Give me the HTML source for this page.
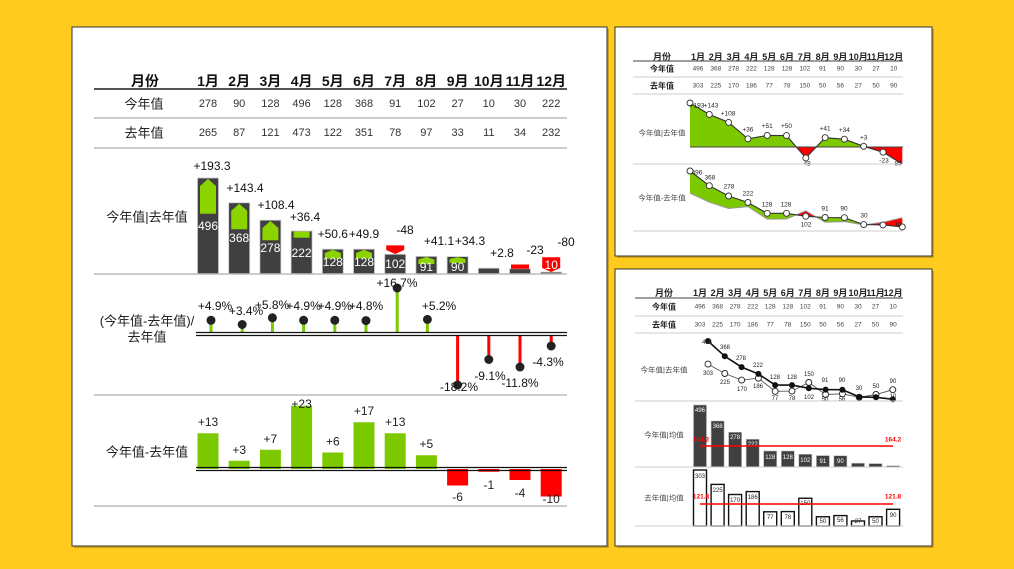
<!DOCTYPE html>
<html><head><meta charset="utf-8"><style>
html,body{margin:0;padding:0;background:#FFCB1F;}
svg{display:block;font-family:"Liberation Sans","Noto Sans CJK SC",sans-serif;}
</style></head><body>
<svg width="1014" height="569" viewBox="0 0 1014 569" xmlns="http://www.w3.org/2000/svg">
<rect width="1014" height="569" fill="#FFCB1F"/>
<!-- panels -->
<rect x="74" y="29" width="535" height="519" fill="#9a7a10" opacity="0.5"/>
<rect x="72" y="27" width="535" height="519" fill="#fff" stroke="#333" stroke-width="1"/>
<rect x="617" y="29" width="317" height="229" fill="#9a7a10" opacity="0.5"/>
<rect x="615" y="27" width="317" height="229" fill="#fff" stroke="#333" stroke-width="1"/>
<rect x="617" y="271" width="317" height="277" fill="#9a7a10" opacity="0.5"/>
<rect x="615" y="269" width="317" height="277" fill="#fff" stroke="#333" stroke-width="1"/>

<!-- ===== MAIN PANEL ===== -->
<g dominant-baseline="central" text-anchor="middle">
<g font-size="14" font-weight="bold" fill="#111">
<text x="145" y="81">月份</text>
<text x="208" y="81">1月</text><text x="239.2" y="81">2月</text><text x="270.4" y="81">3月</text><text x="301.6" y="81">4月</text><text x="332.8" y="81">5月</text><text x="364" y="81">6月</text><text x="395.2" y="81">7月</text><text x="426.4" y="81">8月</text><text x="457.6" y="81">9月</text><text x="488.8" y="81">10月</text><text x="520" y="81">11月</text><text x="551.2" y="81">12月</text>
</g>
<line x1="94" y1="89" x2="567" y2="89" stroke="#555" stroke-width="2"/>
<line x1="94" y1="118" x2="567" y2="118" stroke="#bbb" stroke-width="1.5"/>
<line x1="94" y1="148" x2="567" y2="148" stroke="#bbb" stroke-width="1.5"/>
<g font-size="13" fill="#222"><text x="144" y="104">今年值</text><text x="144" y="133">去年值</text></g>
<g font-size="11" fill="#333">
<text x="208" y="104">278</text><text x="239.2" y="104">90</text><text x="270.4" y="104">128</text><text x="301.6" y="104">496</text><text x="332.8" y="104">128</text><text x="364" y="104">368</text><text x="395.2" y="104">91</text><text x="426.4" y="104">102</text><text x="457.6" y="104">27</text><text x="488.8" y="104">10</text><text x="520" y="104">30</text><text x="551.2" y="104">222</text>
<text x="208" y="133">265</text><text x="239.2" y="133">87</text><text x="270.4" y="133">121</text><text x="301.6" y="133">473</text><text x="332.8" y="133">122</text><text x="364" y="133">351</text><text x="395.2" y="133">78</text><text x="426.4" y="133">97</text><text x="457.6" y="133">33</text><text x="488.8" y="133">11</text><text x="520" y="133">34</text><text x="551.2" y="133">232</text>
</g>

<!-- chart 1 -->
<text x="147" y="217" font-size="13" fill="#222">今年值|去年值</text>
<g fill="#404040" stroke="#ccc" stroke-width="0.8">
<rect x="197.5" y="178" width="21" height="96"/>
<rect x="228.7" y="202.8" width="21" height="71.2"/>
<rect x="259.9" y="220.2" width="21" height="53.8"/>
<rect x="291.1" y="231" width="21" height="43"/>
<rect x="322.3" y="249.2" width="21" height="24.8"/>
<rect x="353.5" y="249.2" width="21" height="24.8"/>
<rect x="384.7" y="254.3" width="21" height="19.7"/>
<rect x="415.9" y="256.4" width="21" height="17.6"/>
<rect x="447.1" y="256.6" width="21" height="17.4"/>
<rect x="478.3" y="268.2" width="21" height="5.8"/>
<rect x="509.5" y="268.8" width="21" height="5.2"/>
<rect x="540.7" y="272.1" width="21" height="1.9"/>
</g>
<g fill="#8CD400">
<polygon points="200,213.8 200,186 208,179 216,186 216,213.8"/>
<polygon points="231.2,229.3 231.2,210.8 239.2,203.8 247.2,210.8 247.2,229.3"/>
<polygon points="262.4,240.2 262.4,228 270.4,221 278.4,228 278.4,240.2"/>
<rect x="293.6" y="231.5" width="16" height="6.2"/>
<polygon points="324.8,258.6 324.8,253 332.8,249.7 340.8,253 340.8,258.6"/>
<polygon points="356,258.4 356,253 364,249.7 372,253 372,258.4"/>
<polygon points="418.4,264 418.4,259.5 426.4,256.9 434.4,259.5 434.4,264"/>
<polygon points="449.6,262.9 449.6,259 457.6,257.1 465.6,259 465.6,262.9"/>
</g>
<g fill="#FF0000">
<polygon points="386.2,245.4 404.2,245.4 404.2,250 395.2,254 386.2,250"/>
<rect x="511" y="264.5" width="18" height="4.3"/>
<polygon points="542.2,257.3 560.2,257.3 560.2,268 551.2,272 542.2,268"/>
</g>
<g font-size="12" fill="#fff">
<text x="208" y="226">496</text><text x="239.2" y="238">368</text><text x="270.4" y="248">278</text><text x="301.6" y="253">222</text><text x="332.8" y="262">128</text><text x="364" y="262">128</text><text x="395.2" y="264">102</text><text x="426.4" y="267">91</text><text x="457.6" y="267">90</text><text x="551.2" y="265">10</text>
</g>
<g font-size="12" fill="#111">
<text x="212" y="166">+193.3</text><text x="245" y="188">+143.4</text><text x="276" y="205">+108.4</text><text x="305" y="217">+36.4</text><text x="332.8" y="234">+50.6</text><text x="364" y="234">+49.9</text><text x="405" y="230">-48</text><text x="439" y="241">+41.1</text><text x="470" y="241">+34.3</text><text x="502" y="253">+2.8</text><text x="535" y="250">-23</text><text x="566" y="242">-80</text>
</g>
<line x1="94" y1="274" x2="567" y2="274" stroke="#bbb" stroke-width="1.5"/>

<!-- chart 2 -->
<text x="147" y="321" font-size="13" fill="#222">(今年值-去年值)/</text>
<text x="147" y="337" font-size="13" fill="#222">去年值</text>
<g stroke="#7DC900" stroke-width="3">
<line x1="211" y1="332" x2="211" y2="320.3"/><line x1="242.2" y1="332" x2="242.2" y2="324.5"/><line x1="272.4" y1="332" x2="272.4" y2="317.8"/><line x1="303.6" y1="332" x2="303.6" y2="320.3"/><line x1="334.8" y1="332" x2="334.8" y2="320.3"/><line x1="366" y1="332" x2="366" y2="320.6"/><line x1="397.2" y1="332" x2="397.2" y2="288"/><line x1="427.4" y1="332" x2="427.4" y2="319.4"/>
</g>
<g stroke="#FF0000" stroke-width="3">
<line x1="457.6" y1="336" x2="457.6" y2="385"/><line x1="488.8" y1="336" x2="488.8" y2="359.5"/><line x1="520" y1="336" x2="520" y2="367"/><line x1="551.2" y1="336" x2="551.2" y2="346"/>
</g>
<line x1="196" y1="332.5" x2="567" y2="332.5" stroke="#111" stroke-width="1.3"/>
<line x1="196" y1="335.5" x2="567" y2="335.5" stroke="#111" stroke-width="1.3"/>
<g fill="#222">
<circle cx="211" cy="320.3" r="4.5"/><circle cx="242.2" cy="324.5" r="4.5"/><circle cx="272.4" cy="317.8" r="4.5"/><circle cx="303.6" cy="320.3" r="4.5"/><circle cx="334.8" cy="320.3" r="4.5"/><circle cx="366" cy="320.6" r="4.5"/><circle cx="397.2" cy="288" r="4.5"/><circle cx="427.4" cy="319.4" r="4.5"/>
<circle cx="457.6" cy="385" r="4.5"/><circle cx="488.8" cy="359.5" r="4.5"/><circle cx="520" cy="367" r="4.5"/><circle cx="551.2" cy="346" r="4.5"/>
</g>
<g font-size="12" fill="#111">
<text x="215" y="306">+4.9%</text><text x="246" y="311">+3.4%</text><text x="272" y="305">+5.8%</text><text x="303.6" y="306">+4.9%</text><text x="334.8" y="306">+4.9%</text><text x="366" y="306">+4.8%</text><text x="397" y="283">+16.7%</text><text x="439" y="306">+5.2%</text>
<text x="459" y="387">-18.2%</text><text x="490" y="376">-9.1%</text><text x="520" y="383">-11.8%</text><text x="548" y="362">-4.3%</text>
</g>
<line x1="94" y1="395" x2="567" y2="395" stroke="#bbb" stroke-width="1.5"/>

<!-- chart 3 -->
<text x="147" y="452" font-size="13" fill="#222">今年值-去年值</text>
<g fill="#7DC900">
<rect x="197.5" y="433.25" width="21" height="35.75"/><rect x="228.7" y="460.75" width="21" height="8.25"/><rect x="259.9" y="449.75" width="21" height="19.25"/><rect x="291.1" y="405.75" width="21" height="63.25"/><rect x="322.3" y="452.5" width="21" height="16.5"/><rect x="353.5" y="422.25" width="21" height="46.75"/><rect x="384.7" y="433.25" width="21" height="35.75"/><rect x="415.9" y="455.25" width="21" height="13.75"/>
</g>
<g fill="#FF0000">
<rect x="447.1" y="469" width="21" height="16.5"/><rect x="478.3" y="469" width="21" height="2.75"/><rect x="509.5" y="469" width="21" height="11"/><rect x="540.7" y="469" width="21" height="27.5"/>
</g>
<line x1="196" y1="467.5" x2="567" y2="467.5" stroke="#111" stroke-width="1.3"/>
<line x1="196" y1="470.5" x2="567" y2="470.5" stroke="#111" stroke-width="1.3"/>
<g font-size="12" fill="#222">
<text x="208" y="422">+13</text><text x="239.2" y="450">+3</text><text x="270.4" y="439">+7</text><text x="301.6" y="404">+23</text><text x="332.8" y="441.5">+6</text><text x="364" y="411">+17</text><text x="395.2" y="422">+13</text><text x="426.4" y="444">+5</text>
<text x="457.6" y="497">-6</text><text x="488.8" y="485">-1</text><text x="520" y="493">-4</text><text x="551.2" y="499">-10</text>
</g>
<line x1="94" y1="506" x2="567" y2="506" stroke="#bbb" stroke-width="1.5"/>

<!-- ===== TOP RIGHT PANEL ===== -->
<g font-size="9" font-weight="bold" fill="#222">
<text x="662" y="57">月份</text>
<text x="698" y="57">1月</text><text x="715.8" y="57">2月</text><text x="733.6" y="57">3月</text><text x="751.4" y="57">4月</text><text x="769.2" y="57">5月</text><text x="787" y="57">6月</text><text x="804.8" y="57">7月</text><text x="822.6" y="57">8月</text><text x="840.4" y="57">9月</text><text x="858.2" y="57">10月</text><text x="876" y="57">11月</text><text x="893.8" y="57">12月</text>
<text x="662" y="69" font-size="8">今年值</text><text x="662" y="86" font-size="8">去年值</text>
</g>
<line x1="633" y1="61" x2="903" y2="61" stroke="#666" stroke-width="1.3"/>
<line x1="633" y1="77" x2="903" y2="77" stroke="#ccc"/>
<line x1="633" y1="94" x2="903" y2="94" stroke="#ccc"/>
<g font-size="6.5" fill="#444">
<text x="698" y="69">496</text><text x="715.8" y="69">368</text><text x="733.6" y="69">278</text><text x="751.4" y="69">222</text><text x="769.2" y="69">128</text><text x="787" y="69">128</text><text x="804.8" y="69">102</text><text x="822.6" y="69">91</text><text x="840.4" y="69">90</text><text x="858.2" y="69">30</text><text x="876" y="69">27</text><text x="893.8" y="69">10</text>
<text x="698" y="86">303</text><text x="715.8" y="86">225</text><text x="733.6" y="86">170</text><text x="751.4" y="86">186</text><text x="769.2" y="86">77</text><text x="787" y="86">78</text><text x="804.8" y="86">150</text><text x="822.6" y="86">50</text><text x="840.4" y="86">56</text><text x="858.2" y="86">27</text><text x="876" y="86">50</text><text x="893.8" y="86">90</text>
</g>
<text x="662" y="133" font-size="7.5" fill="#444">今年值|去年值</text>
<polygon fill="#7DC900" points="690,147 690,103 709.3,114.4 728.6,122.4 747.9,138.8 767.2,135.4 786.5,135.6 796.4,147"/>
<polygon fill="#7DC900" points="816.2,147 825.1,137.7 844.4,139.2 863.7,146.3 866,147"/>
<polygon fill="#FF0000" points="796.4,147 805.8,157.9 816.2,147"/>
<polygon fill="#FF0000" points="866,147 883,152.2 902.3,164 902.3,147"/>
<line x1="690" y1="147" x2="903" y2="147" stroke="#444" stroke-width="1"/>
<polyline fill="none" stroke="#333" stroke-width="1.1" points="690,103 709.3,114.4 728.6,122.4 747.9,138.8 767.2,135.4 786.5,135.6 805.8,157.9 825.1,137.7 844.4,139.2 863.7,146.3 883,152.2 902.3,164"/>
<g fill="#fff" stroke="#333" stroke-width="0.9">
<circle cx="690" cy="103" r="3"/><circle cx="709.3" cy="114.4" r="3"/><circle cx="728.6" cy="122.4" r="3"/><circle cx="747.9" cy="138.8" r="3"/><circle cx="767.2" cy="135.4" r="3"/><circle cx="786.5" cy="135.6" r="3"/><circle cx="805.8" cy="157.9" r="3"/><circle cx="825.1" cy="137.7" r="3"/><circle cx="844.4" cy="139.2" r="3"/><circle cx="863.7" cy="146.3" r="3"/><circle cx="883" cy="152.2" r="3"/>
</g>
<g font-size="6.5" fill="#222">
<text x="697" y="106">+193</text><text x="711" y="106">+143</text><text x="728" y="114">+108</text><text x="747.9" y="130">+36</text><text x="767.2" y="126.5">+51</text><text x="786.5" y="126.5">+50</text><text x="806" y="164">-48</text><text x="825.1" y="129">+41</text><text x="844.4" y="130.5">+34</text><text x="863.7" y="138">+3</text><text x="884" y="161">-23</text><text x="897" y="164">-80</text>
</g>
<line x1="633" y1="164" x2="903" y2="164" stroke="#ccc"/>

<text x="662" y="198" font-size="7.5" fill="#444">今年值-去年值</text>
<polygon fill="#7DC900" points="690,171 709.3,185.7 728.6,196 747.9,202.5 767.2,213.3 786.5,213.3 796.1,214.8 786.5,219 767.2,219.1 747.9,206.6 728.6,208.5 709.3,202.1 690,193.2"/>
<polygon fill="#FF0000" points="796.1,214.8 805.8,216.3 816.1,216.9 805.8,210.8"/>
<polygon fill="#7DC900" points="816.1,216.9 825.1,217.5 844.4,217.7 863.7,224.6 865.6,224.6 863.7,224.9 844.4,221.6 825.1,222.3"/>
<polygon fill="#FF0000" points="865.6,224.6 883,224.9 902.3,226.9 902.3,217.7 883,222.3"/>
<polyline fill="none" stroke="#999" stroke-width="1" points="690,193.2 709.3,202.1 728.6,208.5 747.9,206.6 767.2,219.1 786.5,219 805.8,210.8 825.1,222.3 844.4,221.6 863.7,224.9 883,222.3 902.3,217.7"/>
<polyline fill="none" stroke="#333" stroke-width="1.1" points="690,171 709.3,185.7 728.6,196 747.9,202.5 767.2,213.3 786.5,213.3 805.8,216.3 825.1,217.5 844.4,217.7 863.7,224.6 883,224.9 902.3,226.9"/>
<g fill="#fff" stroke="#333" stroke-width="0.9">
<circle cx="690" cy="171" r="3"/><circle cx="709.3" cy="185.7" r="3"/><circle cx="728.6" cy="196" r="3"/><circle cx="747.9" cy="202.5" r="3"/><circle cx="767.2" cy="213.3" r="3"/><circle cx="786.5" cy="213.3" r="3"/><circle cx="805.8" cy="216.3" r="3"/><circle cx="825.1" cy="217.5" r="3"/><circle cx="844.4" cy="217.7" r="3"/><circle cx="863.7" cy="224.6" r="3"/><circle cx="883" cy="224.9" r="3"/><circle cx="902.3" cy="226.9" r="3"/>
</g>
<g font-size="6.5" fill="#222">
<text x="697" y="173">496</text><text x="710" y="178">368</text><text x="729" y="187">278</text><text x="748" y="194">222</text><text x="767" y="205">128</text><text x="786" y="205">128</text><text x="806" y="225">102</text><text x="825" y="209">91</text><text x="844" y="209">90</text><text x="864" y="216">30</text><text x="898" y="225">10</text>
</g>
<line x1="633" y1="231" x2="903" y2="231" stroke="#ccc"/>

<!-- ===== BOTTOM RIGHT PANEL ===== -->
<g font-size="9" font-weight="bold" fill="#222">
<text x="664" y="293">月份</text>
<text x="700" y="293">1月</text><text x="717.6" y="293">2月</text><text x="735.1" y="293">3月</text><text x="752.7" y="293">4月</text><text x="770.2" y="293">5月</text><text x="787.8" y="293">6月</text><text x="805.3" y="293">7月</text><text x="822.9" y="293">8月</text><text x="840.4" y="293">9月</text><text x="858" y="293">10月</text><text x="875.5" y="293">11月</text><text x="893.1" y="293">12月</text>
<text x="664" y="307" font-size="8">今年值</text><text x="664" y="325" font-size="8">去年值</text>
</g>
<line x1="635" y1="298" x2="903" y2="298" stroke="#666" stroke-width="1.3"/>
<line x1="635" y1="316" x2="903" y2="316" stroke="#ccc"/>
<line x1="635" y1="333" x2="903" y2="333" stroke="#ccc"/>
<g font-size="6.5" fill="#444">
<text x="700" y="307">496</text><text x="717.6" y="307">368</text><text x="735.1" y="307">278</text><text x="752.7" y="307">222</text><text x="770.2" y="307">128</text><text x="787.8" y="307">128</text><text x="805.3" y="307">102</text><text x="822.9" y="307">91</text><text x="840.4" y="307">90</text><text x="858" y="307">30</text><text x="875.5" y="307">27</text><text x="893.1" y="307">10</text>
<text x="700" y="325">303</text><text x="717.6" y="325">225</text><text x="735.1" y="325">170</text><text x="752.7" y="325">186</text><text x="770.2" y="325">77</text><text x="787.8" y="325">78</text><text x="805.3" y="325">150</text><text x="822.9" y="325">50</text><text x="840.4" y="325">56</text><text x="858" y="325">27</text><text x="875.5" y="325">50</text><text x="893.1" y="325">90</text>
</g>
<text x="664" y="370" font-size="7.5" fill="#444">今年值|去年值</text>
<polyline fill="none" stroke="#555" stroke-width="0.9" points="708,364.1 724.8,373.5 741.6,380.1 758.4,378.2 775.2,391.3 792,391.1 808.8,382.5 825.6,394.5 842.4,393.8 859.2,397.3 876,394.5 892.8,389.7"/>
<polyline fill="none" stroke="#111" stroke-width="1.6" points="708,341 724.8,356.3 741.6,367.1 758.4,373.9 775.2,385.1 792,385.1 808.8,388.3 825.6,389.6 842.4,389.7 859.2,396.9 876,397.3 892.8,399.3"/>
<g fill="#fff" stroke="#222" stroke-width="0.9">
<circle cx="708" cy="364.1" r="3"/><circle cx="724.8" cy="373.5" r="3"/><circle cx="741.6" cy="380.1" r="3"/><circle cx="758.4" cy="378.2" r="3"/><circle cx="775.2" cy="391.3" r="3"/><circle cx="792" cy="391.1" r="3"/><circle cx="808.8" cy="382.5" r="3"/><circle cx="825.6" cy="394.5" r="3"/><circle cx="842.4" cy="393.8" r="3"/><circle cx="859.2" cy="397.3" r="3"/><circle cx="876" cy="394.5" r="3"/><circle cx="892.8" cy="389.7" r="3"/>
</g>
<g fill="#111">
<circle cx="708" cy="341" r="3"/><circle cx="724.8" cy="356.3" r="3"/><circle cx="741.6" cy="367.1" r="3"/><circle cx="758.4" cy="373.9" r="3"/><circle cx="775.2" cy="385.1" r="3"/><circle cx="792" cy="385.1" r="3"/><circle cx="808.8" cy="388.3" r="3"/><circle cx="825.6" cy="389.6" r="3"/><circle cx="842.4" cy="389.7" r="3"/><circle cx="859.2" cy="396.9" r="3"/><circle cx="876" cy="397.3" r="3"/><circle cx="892.8" cy="399.3" r="3"/>
</g>
<g font-size="6" fill="#222">
<text x="707" y="343">496</text><text x="725" y="348">368</text><text x="741" y="359">278</text><text x="758" y="366">222</text><text x="775" y="378">128</text><text x="792" y="378">128</text><text x="825" y="381">91</text><text x="842" y="381">90</text><text x="859" y="389">30</text><text x="893" y="397">10</text>
<text x="708" y="374">303</text><text x="725" y="383">225</text><text x="742" y="390">170</text><text x="758" y="387">186</text><text x="775" y="399">77</text><text x="792" y="399">78</text><text x="809" y="375">150</text><text x="809" y="398">102</text><text x="825" y="400">50</text><text x="842" y="400">56</text><text x="876" y="387">50</text><text x="893" y="382">90</text>
</g>
<line x1="635" y1="401" x2="903" y2="401" stroke="#ccc"/>

<text x="664" y="435" font-size="7.5" fill="#444">今年值|均值</text>
<g fill="#404040" stroke="#bbb" stroke-width="0.6">
<rect x="693.5" y="405" width="13" height="62"/><rect x="711.1" y="421" width="13" height="46"/><rect x="728.6" y="432.25" width="13" height="34.75"/><rect x="746.2" y="439.25" width="13" height="27.75"/><rect x="763.7" y="451" width="13" height="16"/><rect x="781.3" y="451" width="13" height="16"/><rect x="798.8" y="454.25" width="13" height="12.75"/><rect x="816.4" y="455.6" width="13" height="11.4"/><rect x="833.9" y="455.75" width="13" height="11.25"/><rect x="851.5" y="463.25" width="13" height="3.75"/><rect x="869" y="463.6" width="13" height="3.4"/><rect x="886.6" y="465.75" width="13" height="1.25"/>
</g>
<g font-size="6" fill="#fff">
<text x="700" y="411">496</text><text x="717.6" y="427">368</text><text x="735.1" y="438">278</text><text x="752.7" y="445">222</text><text x="770.2" y="458">128</text><text x="787.8" y="458">128</text><text x="805.3" y="461">102</text><text x="822.9" y="462">91</text><text x="840.4" y="462">90</text>
</g>
<line x1="700" y1="446" x2="893" y2="446" stroke="#FF0000" stroke-width="1.6"/>
<g font-size="6.5" font-weight="bold" fill="#FF0000"><text x="701" y="440">164.2</text><text x="893" y="440">164.2</text></g>
<line x1="635" y1="467" x2="903" y2="467" stroke="#ccc"/>

<text x="664" y="498" font-size="7.5" fill="#444">去年值|均值</text>
<g fill="#fff" stroke="#111" stroke-width="1.4">
<rect x="693.5" y="470" width="13" height="56"/><rect x="711.1" y="484.4" width="13" height="41.6"/><rect x="728.6" y="494.5" width="13" height="31.5"/><rect x="746.2" y="491.6" width="13" height="34.4"/><rect x="763.7" y="511.8" width="13" height="14.2"/><rect x="781.3" y="511.6" width="13" height="14.4"/><rect x="798.8" y="498.25" width="13" height="27.75"/><rect x="816.4" y="516.75" width="13" height="9.25"/><rect x="833.9" y="515.6" width="13" height="10.4"/><rect x="851.5" y="521" width="13" height="5"/><rect x="869" y="516.75" width="13" height="9.25"/><rect x="886.6" y="509.3" width="13" height="16.7"/>
</g>
<g font-size="6" fill="#222">
<text x="700" y="477">303</text><text x="717.6" y="491">225</text><text x="735.1" y="501">170</text><text x="752.7" y="498">186</text><text x="770.2" y="518">77</text><text x="787.8" y="518">78</text><text x="805.3" y="504">150</text><text x="822.9" y="522">50</text><text x="840.4" y="521">56</text><text x="858" y="522">27</text><text x="875.5" y="522">50</text><text x="893.1" y="516">90</text>
</g>
<line x1="700" y1="504" x2="893" y2="504" stroke="#FF0000" stroke-width="1.6"/>
<g font-size="6.5" font-weight="bold" fill="#FF0000"><text x="701" y="497">121.8</text><text x="893" y="497">121.8</text></g>
<line x1="635" y1="526" x2="903" y2="526" stroke="#ccc"/>
</g>
</svg>
</body></html>
